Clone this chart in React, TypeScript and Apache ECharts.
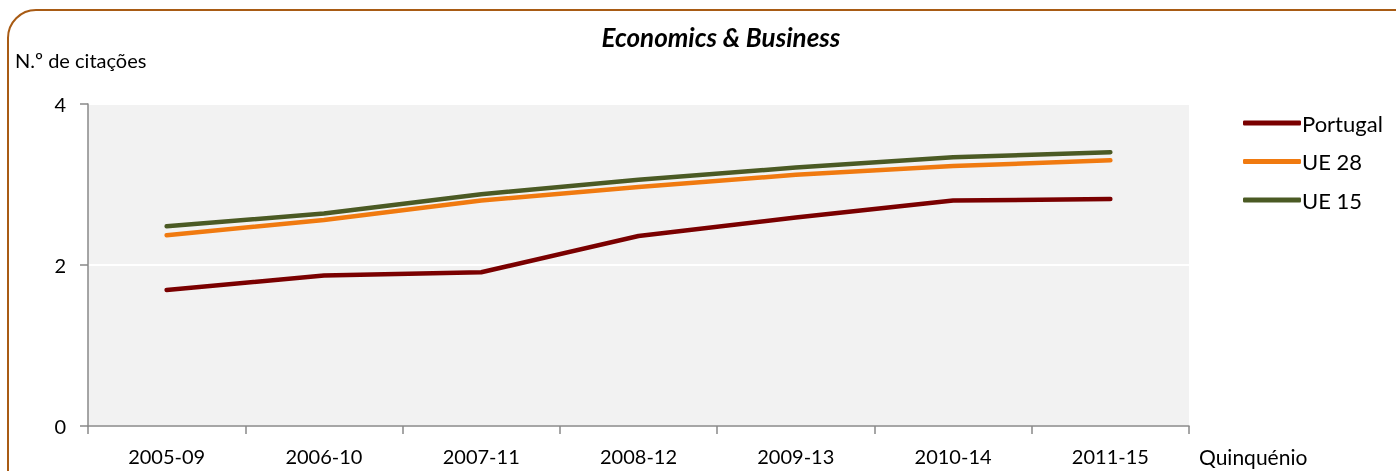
import React, { useEffect, useRef } from "react";
import * as echarts from "echarts";

const categories = ["2005-09", "2006-10", "2007-11", "2008-12", "2009-13", "2010-14", "2011-15"];
const portugal = [1.69, 1.87, 1.91, 2.36, 2.59, 2.8, 2.82];
const ue28 = [2.37, 2.56, 2.8, 2.97, 3.12, 3.23, 3.3];
const ue15 = [2.48, 2.64, 2.88, 3.06, 3.21, 3.34, 3.4];
const seriesNames = ["Portugal", "UE 28", "UE 15"];
const colors = ["#7A0000", "#F07A10", "#4B5A24"];

const FONT = "Lato";

export default function App() {
  const ref = useRef<HTMLDivElement>(null);
  useEffect(() => {
    const chart = echarts.init(ref.current!, null, { renderer: "svg" });
    const data = [portugal, ue28, ue15];
    chart.setOption({
      animation: false,
      textStyle: { fontFamily: FONT, color: "#000" },
      title: {
        text: "Economics & Business",
        left: 716,
        textAlign: "center",
        top: 19,
        textStyle: { fontFamily: FONT, fontSize: 26, fontWeight: "bold", fontStyle: "italic", color: "#000" },
      },
      grid: {
        left: 88,
        top: 104,
        right: 207,
        bottom: 45,
        show: true,
        backgroundColor: "#F2F2F2",
        borderWidth: 0,
      },
      legend: {
        orient: "vertical",
        left: 1238,
        top: 107,
        itemWidth: 58,
        itemHeight: 5,
        itemGap: 16.5,
        icon: "roundRect",
        data: seriesNames,
        textStyle: { fontFamily: FONT, fontSize: 22, color: "#000", lineHeight: 22, padding: [0, 0, 0, -4] },
      },
      xAxis: {
        type: "category",
        data: categories,
        boundaryGap: true,
        axisLine: { show: true, lineStyle: { color: "#898989", width: 1.5 } },
        axisTick: { show: true, length: 8, alignWithLabel: false, lineStyle: { color: "#898989", width: 1.5 } },
        axisLabel: { fontFamily: FONT, fontSize: 20, color: "#000", margin: 20 },
        splitLine: { show: false },
      },
      yAxis: {
        type: "value",
        min: 0,
        max: 4,
        interval: 2,
        axisLine: { show: true, lineStyle: { color: "#898989", width: 1.5 } },
        axisTick: { show: true, length: 8, inside: false, lineStyle: { color: "#898989", width: 1.5 } },
        axisLabel: { fontFamily: FONT, fontSize: 20, color: "#000", margin: 22 },
        splitLine: { show: true, lineStyle: { color: "#FFFFFF", width: 2 } },
      },
      graphic: [
        {
          type: "rect",
          shape: { x: 8, y: 10, width: 1420, height: 500, r: 28 },
          style: { fill: "none", stroke: "#A85B14", lineWidth: 2 },
          silent: true,
        },
        {
          type: "text",
          x: 15,
          y: 60,
          style: { text: "N.º de citações", fontFamily: FONT, fontSize: 20, fill: "#000", textVerticalAlign: "middle" },
        },
        {
          type: "text",
          x: 1199,
          y: 456,
          style: { text: "Quinquénio", fontFamily: FONT, fontSize: 21, fill: "#000", textVerticalAlign: "middle" },
        },
      ],
      series: seriesNames.map((name, i) => ({
        name,
        type: "line",
        data: data[i],
        showSymbol: false,
        symbol: "none",
        color: colors[i],
        lineStyle: { color: colors[i], width: 4.5, cap: "round", join: "round" },
      })),
    });
    return () => chart.dispose();
  }, []);
  return <div ref={ref} style={{ position: "fixed", left: 0, top: 0, width: 1396, height: 471 }} />;
}
